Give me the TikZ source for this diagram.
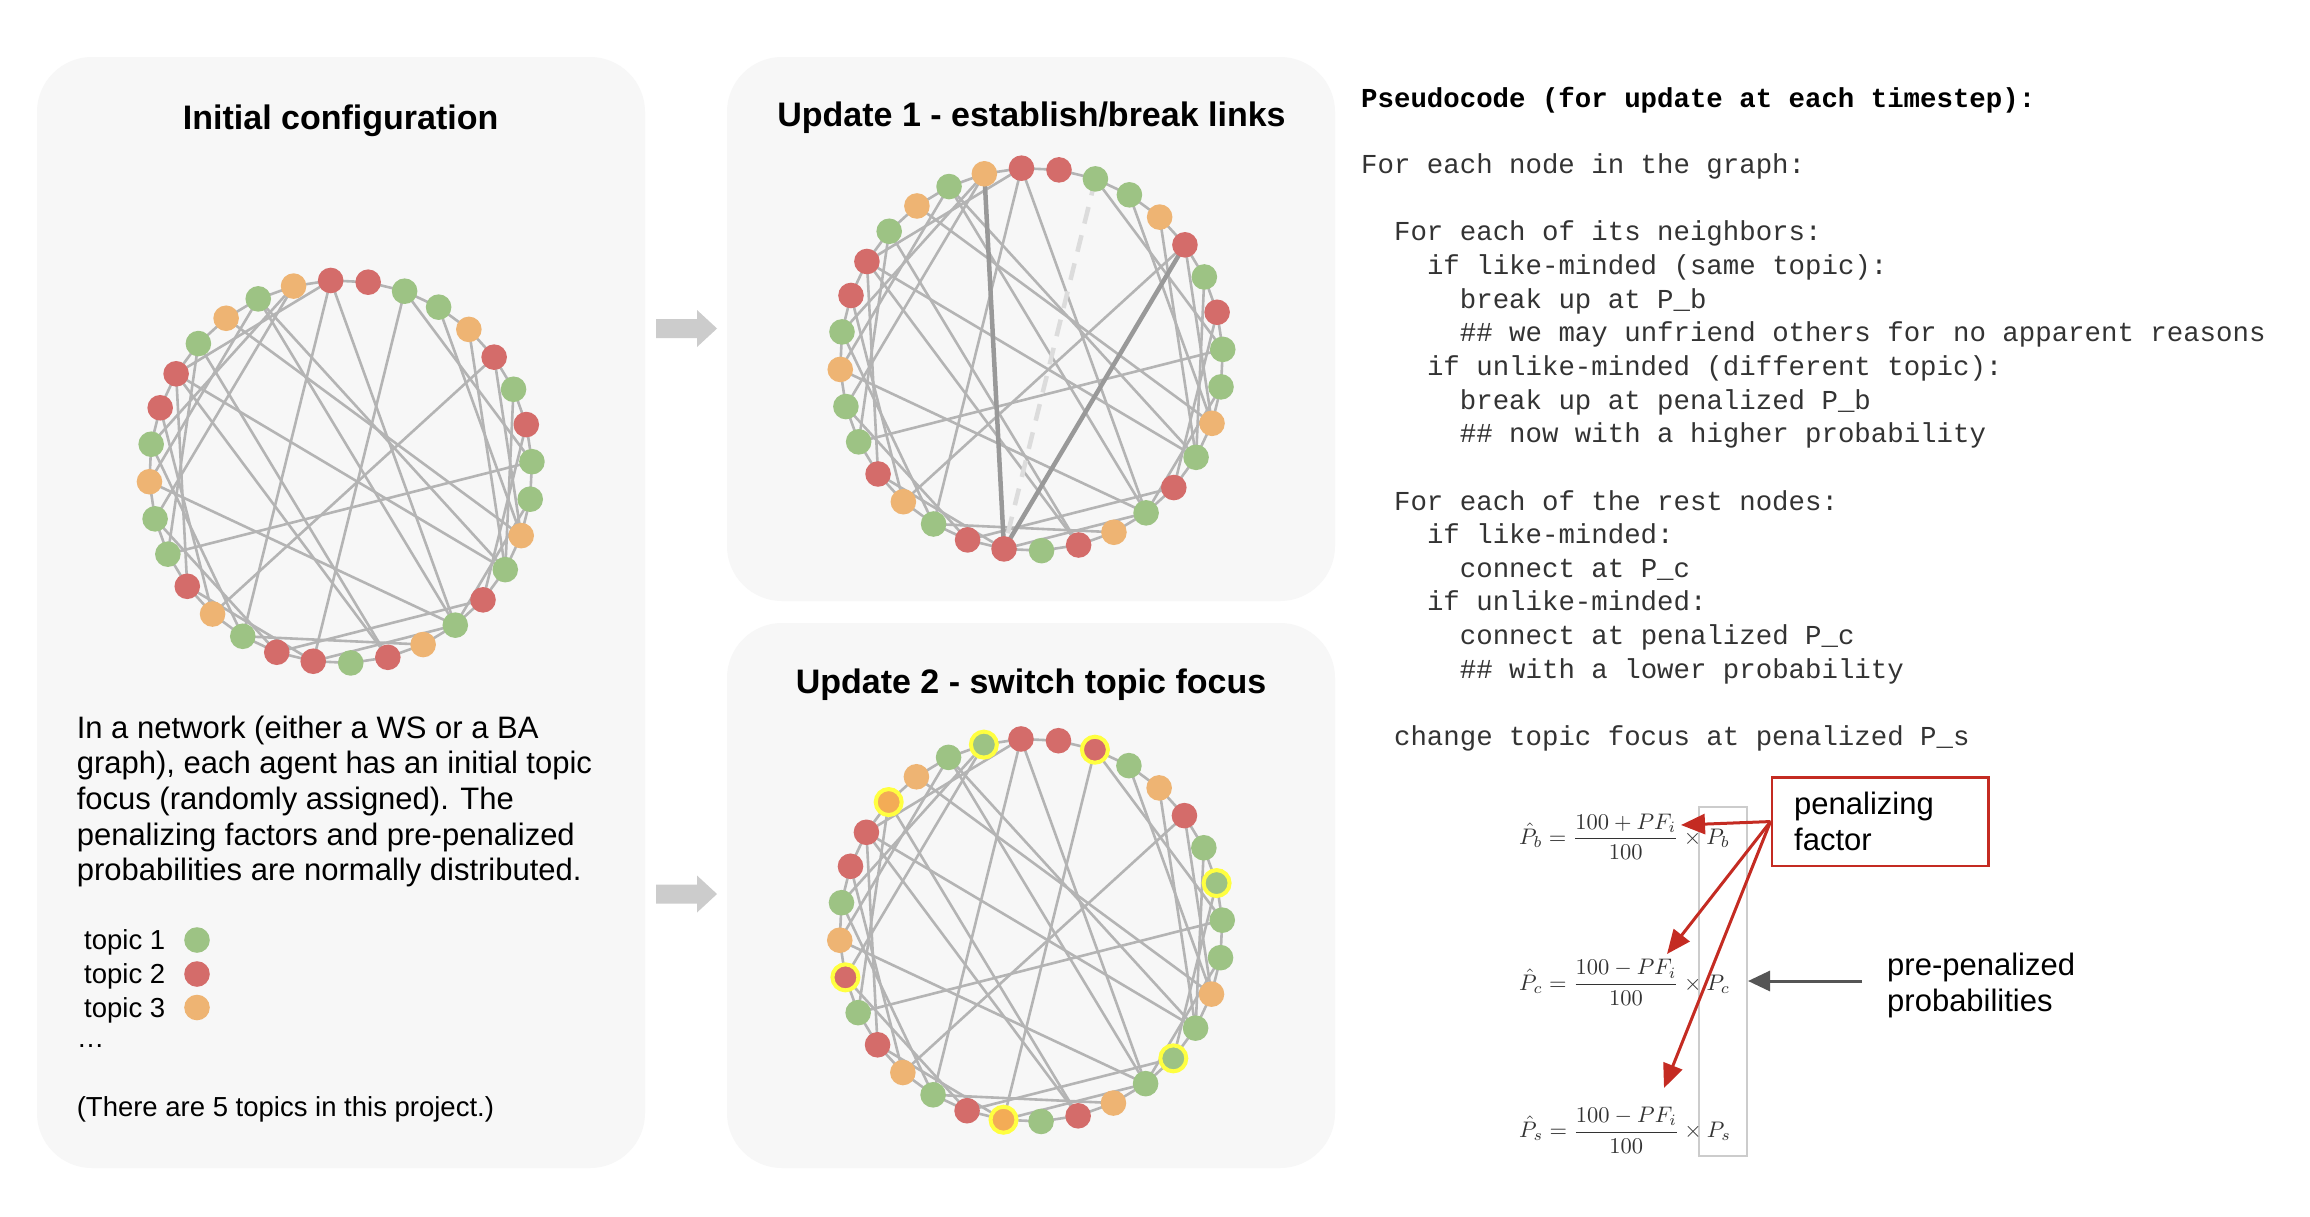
\documentclass[tikz,border=0pt]{standalone}
\usepackage[no-math]{fontspec}
\usepackage{graphicx}
\setmainfont{Liberation Sans}
\newfontfamily\codefont{Liberation Mono}
\usetikzlibrary{arrows.meta}
\definecolor{panelbg}{HTML}{F7F7F7}
\definecolor{tgreen}{HTML}{9DC384}
\definecolor{tred}{HTML}{D46C6A}
\definecolor{torange}{HTML}{EEB473}
\definecolor{tbright}{HTML}{F3AC56}
\definecolor{edgegray}{HTML}{B4B4B4}
\definecolor{darkedge}{HTML}{999999}
\definecolor{lightdash}{HTML}{DCDCDC}
\definecolor{arrowgray}{HTML}{CCCCCC}
\definecolor{boxred}{HTML}{C42B22}
\definecolor{codegray}{HTML}{333333}
\definecolor{mathgray}{HTML}{333333}
\definecolor{hiyellow}{HTML}{FFFF40}
\definecolor{pointgray}{HTML}{555555}
\definecolor{rectgray}{HTML}{CCCCCC}
\tikzset{
  panel/.style={fill=panelbg, draw=none, rounded corners=55pt},
  agent/.style={circle, inner sep=0pt, minimum size=25.6pt, draw=none},
  ringed/.style={circle, inner sep=0pt, minimum size=26pt, draw=hiyellow, line width=4pt},
  link/.style={draw=edgegray, line width=2.6pt},
  newlink/.style={draw=darkedge, line width=4.5pt},
  brokenlink/.style={draw=lightdash, line width=4.5pt, dash pattern=on 17pt off 12pt},
  titletext/.style={font=\fontsize{34}{40}\selectfont\bfseries, inner sep=0pt},
  bodytext/.style={font=\fontsize{31}{36}\selectfont, anchor=base west, inner sep=0pt},
  smalltext/.style={font=\fontsize{27.5}{33}\selectfont, anchor=base west, inner sep=0pt},
  codeline/.style={font=\codefont\fontsize{27.4}{33.6}\selectfont, text=codegray, anchor=base west, inner sep=0pt},
  codetitle/.style={font=\codefont\bfseries\fontsize{27.4}{33.6}\selectfont, text=black, anchor=base west, inner sep=0pt},
  mathtext/.style={font=\normalsize, text=mathgray, anchor=west, inner sep=0pt},
  blockarrow/.style={fill=arrowgray, draw=none},
  redarrow/.style={draw=boxred, line width=3pt, -{Triangle[length=24pt, width=20pt]}},
  grayarrow/.style={draw=pointgray, line width=3pt, -{Triangle[length=22pt, width=20pt]}},
}
\newcommand{\chordsA}{1/20,1/28,1/14,3/9,4/11,5/12,6/21,6/11,7/12,8/13,9/23,10/14,11/30,12/31,14/25,16/29,14/18,13/19,15/20,18/22,22/28,23/29,24/32,25/31,26/32,21/27,20/26,19/24,12/28,14/31,16/28}
\newcommand{\colorsA}{1/tred,2/tred,3/tgreen,4/tgreen,5/torange,6/tred,7/tgreen,8/tred,9/tgreen,10/tgreen,11/torange,12/tgreen,13/tred,14/tgreen,15/torange,16/tred,17/tgreen,18/tred,19/tred,20/tgreen,21/torange,22/tred,23/tgreen,24/tgreen,25/torange,26/tgreen,27/tred,28/tred,29/tgreen,30/torange,31/tgreen,32/torange}
\newcommand{\colorsCplain}{1/tred,2/tred,4/tgreen,5/torange,6/tred,7/tgreen,9/tgreen,10/tgreen,11/torange,12/tgreen,14/tgreen,15/torange,16/tred,17/tgreen,19/tred,20/tgreen,21/torange,22/tred,23/tgreen,25/torange,26/tgreen,27/tred,28/tred,30/torange,31/tgreen}
\newcommand{\colorsCring}{3/tred,8/tgreen,13/tgreen,18/tbright,24/tred,29/tbright,32/tgreen}
\newcommand{\placeagents}[3]{%
  \foreach \k in {1,...,32}{%
    \pgfmathsetmacro{\ang}{93-(\k-1)*11.25}%
    \path (#2,#3) ++(\ang:191.5) coordinate (#1-\k);%
  }%
}
\newcommand{\ringlinks}[1]{%
  \foreach \k in {1,...,32}{%
    \pgfmathtruncatemacro{\nxt}{mod(\k,32)+1}%
    \draw[link] (#1-\k) -- (#1-\nxt);%
  }%
}
\newcommand{\chordlinks}[1]{%
  \foreach \a/\b in \chordsA {\draw[link] (#1-\a) -- (#1-\b);}%
}
\newcommand{\agentdiscs}[2]{%
  \foreach \k/\c in #2 {\node[agent, fill=\c] (#1n\k) at (#1-\k) {};}%
}
\newcommand{\ringdiscs}[2]{%
  \foreach \k/\c in #2 {\node[ringed, fill=\c] (#1n\k) at (#1-\k) {};}%
}
\newcommand{\bigmath}[1]{\scalebox{2.25}{$\displaystyle #1$}}
\begin{document}
\begin{tikzpicture}[x=1pt,y=1pt]
\useasboundingbox (0,0) rectangle (2310,-1216);
\fill[white] (0,0) rectangle (2310,-1216);
% panels
\path[panel] (37,-57) rectangle (645,-1168);
\path[panel] (727,-57) rectangle (1335,-601);
\path[panel] (727,-623) rectangle (1335,-1168);
% titles
\node[titletext] (t1) at (340.7,-121) {Initial configuration};
\node[titletext] (t2) at (1031.5,-118) {Update 1 - establish/break links};
\node[titletext] (t3) at (1031,-685) {Update 2 - switch topic focus};
% block arrows
\fill[blockarrow] (656,-319) -- (697,-319) -- (697,-310) -- (717,-328.5) -- (697,-347) -- (697,-338) -- (656,-338) -- cycle;
\fill[blockarrow] (656,-884.5) -- (697,-884.5) -- (697,-875.5) -- (717,-894) -- (697,-912.5) -- (697,-903.5) -- (656,-903.5) -- cycle;
% graph 1
\placeagents{ga}{340.7}{-471.7}
\ringlinks{ga}
\chordlinks{ga}
\draw[link] (ga-3) -- (ga-18);
\agentdiscs{ga}{\colorsA}
% graph 2
\placeagents{gb}{1031.5}{-359.4}
\ringlinks{gb}
\chordlinks{gb}
\draw[brokenlink] (gb-3) -- (gb-18);
\draw[newlink] (gb-32) -- (gb-18);
\draw[newlink] (gb-6) -- (gb-18);
\agentdiscs{gb}{\colorsA}
% graph 3
\placeagents{gc}{1031}{-930.2}
\ringlinks{gc}
\chordlinks{gc}
\draw[link] (gc-3) -- (gc-18);
\agentdiscs{gc}{\colorsCplain}
\ringdiscs{gc}{\colorsCring}
% panel 1 text
\node[bodytext] (p1) at (76.6,-738) {In a network (either a WS or a BA};
\node[bodytext] (p2) at (76.6,-773.7) {graph), each agent has an initial topic};
\node[bodytext] (p3) at (76.6,-809.3) {focus (randomly assigned). The};
\node[bodytext] (p4) at (76.6,-845) {penalizing factors and pre-penalized};
\node[bodytext] (p5) at (76.6,-880.6) {probabilities are normally distributed.};
\node[smalltext] (l1) at (84,-949) {topic 1};
\node[smalltext] (l2) at (84,-983) {topic 2};
\node[smalltext] (l3) at (84,-1017) {topic 3};
\node[agent, fill=tgreen] (c1) at (197,-940) {};
\node[agent, fill=tred] (c2) at (197,-974) {};
\node[agent, fill=torange] (c3) at (197,-1007.5) {};
\node[smalltext] (l4) at (76.6,-1047) {\ldots};
\node[smalltext] (l5) at (76.6,-1116) {(There are 5 topics in this project.)};
% pseudocode
\node[codetitle] (ct) at (1361,-107) {Pseudocode (for update at each timestep):};
\foreach \i/\ind/\txt [count=\n] in {
  0/0/{For each node in the graph:},
  2/2/{For each of its neighbors:},
  3/4/{if like-minded (same topic):},
  4/6/{break up at P\_b},
  5/6/{\#\# we may unfriend others for no apparent reasons},
  6/4/{if unlike-minded (different topic):},
  7/6/{break up at penalized P\_b},
  8/6/{\#\# now with a higher probability},
  10/2/{For each of the rest nodes:},
  11/4/{if like-minded:},
  12/6/{connect at P\_c},
  13/4/{if unlike-minded:},
  14/6/{connect at penalized P\_c},
  15/6/{\#\# with a lower probability},
  17/2/{change topic focus at penalized P\_s}}
  {\node[codeline] (code\n) at ({1361+16.45*\ind},{-173.5-33.65*\i}) {\txt};}
% formulas
\node[draw=rectgray, line width=2pt, minimum width=47.5pt, minimum height=349.3pt, anchor=north west, inner sep=0pt] (prect) at (1698,-805.7) {};
\node[mathtext] (fb) at (1519,-836.7) {\bigmath{\hat{P}_b = \frac{100+PF_i}{100}\times P_b}};
\node[mathtext] (fc) at (1519,-982.5) {\bigmath{\hat{P}_c = \frac{100-PF_i}{100}\times P_c}};
\node[mathtext] (fs) at (1519,-1130) {\bigmath{\hat{P}_s = \frac{100-PF_i}{100}\times P_s}};
\node[draw=boxred, line width=2.5pt, minimum width=216.5pt, minimum height=88.6pt, anchor=north west, inner sep=0pt] (pfbox) at (1770.5,-776) {};
\node[bodytext] (pf1) at (1794,-814) {penalizing};
\node[bodytext] (pf2) at (1794,-850) {factor};
\node[bodytext] (pp1) at (1887,-975) {pre-penalized};
\node[bodytext] (pp2) at (1887,-1011) {probabilities};
\coordinate (tipb) at (1681,-825);
\coordinate (tipc) at (1667,-954);
\coordinate (tips) at (1664,-1088);
\coordinate (ppstart) at (1862,-981);
\coordinate (pptip) at (1748,-981);
\draw[redarrow] (pfbox.west) -- (tipb);
\draw[redarrow] (pfbox.west) -- (tipc);
\draw[redarrow] (pfbox.west) -- (tips);
\draw[grayarrow] (ppstart) -- (pptip);
\end{tikzpicture}
\end{document}
